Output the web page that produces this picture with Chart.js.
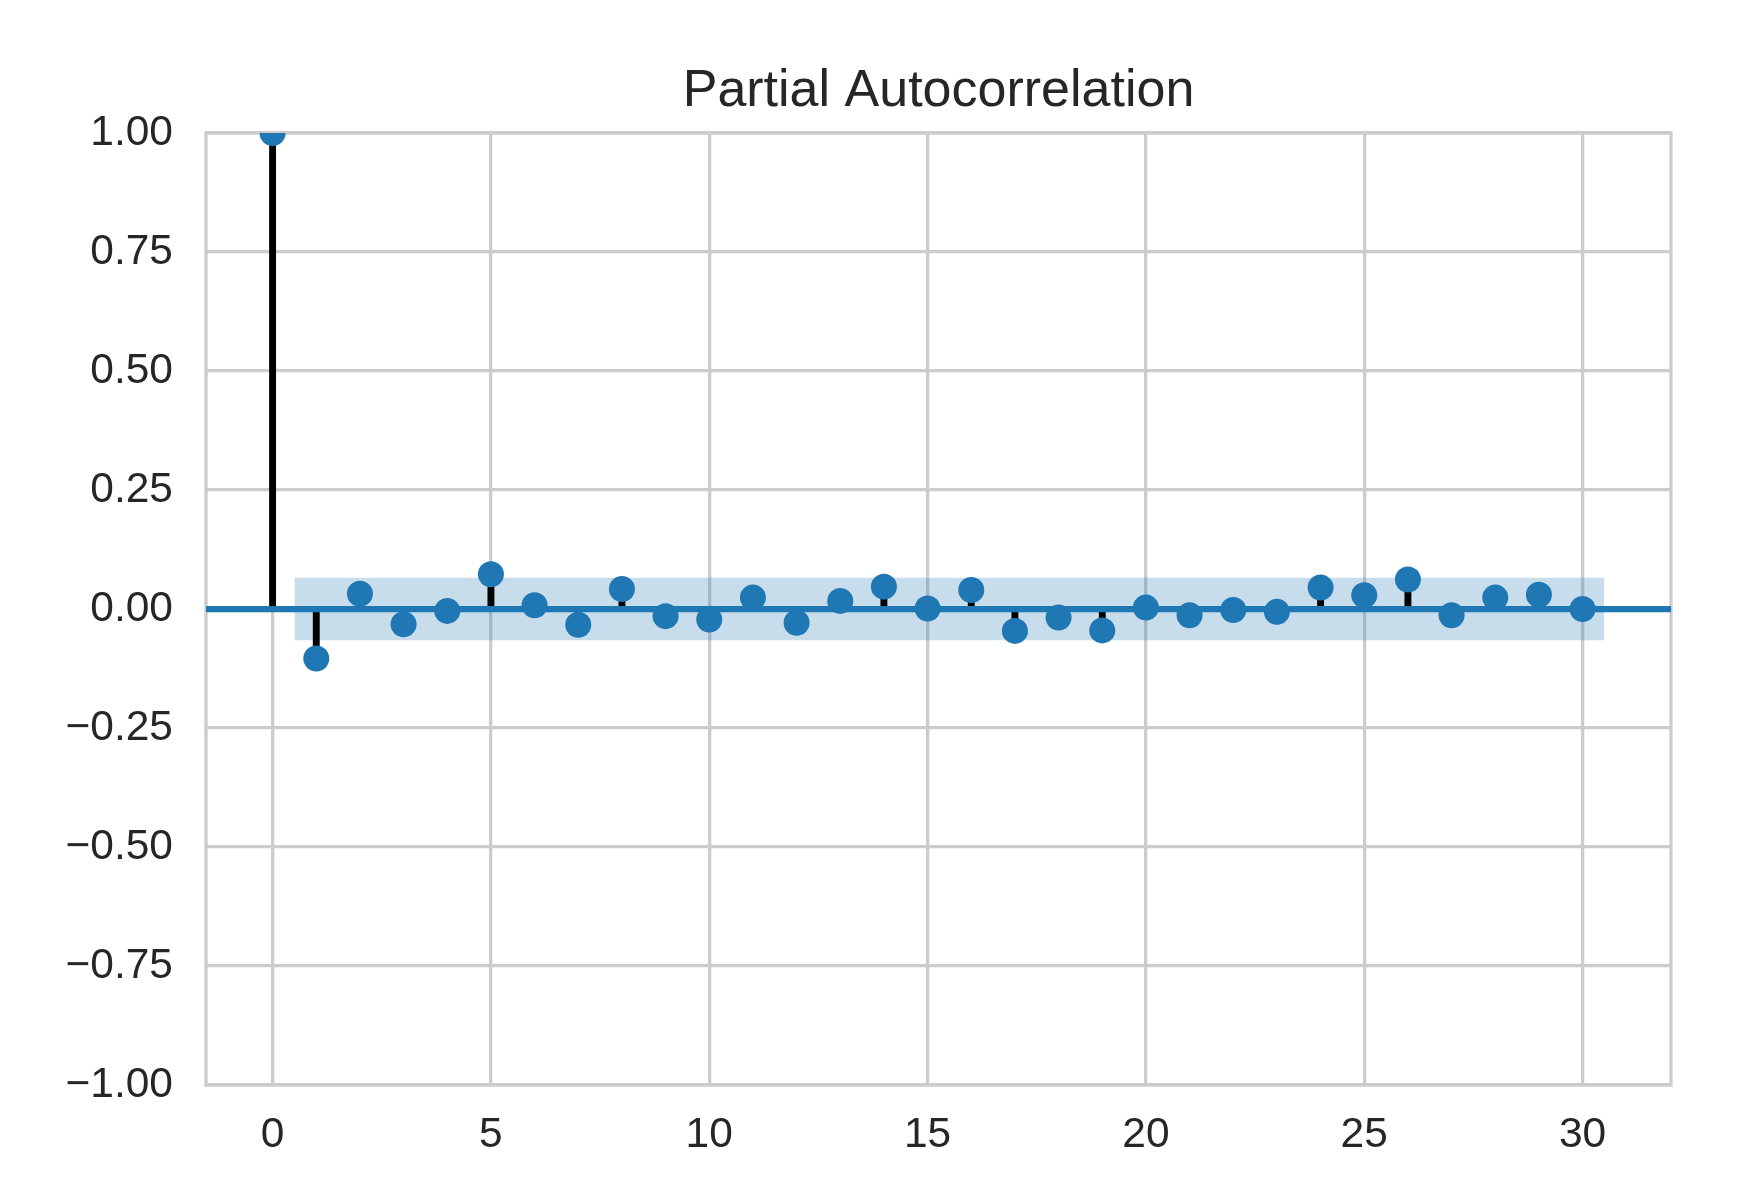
<!DOCTYPE html>
<html>
<head>
<meta charset="utf-8">
<title>Partial Autocorrelation</title>
<script src="https://cdn.jsdelivr.net/npm/chart.js@4.4.1/dist/chart.umd.min.js"></script>
<style>
	body { margin: 0; background: #ffffff; }
	canvas { display: block; }
</style>
</head>
<body>
<canvas id="pacf-chart" width="1740" height="1204"></canvas>
<script>
// --- Data ---
const lags = [0, 1, 2, 3, 4, 5, 6, 7, 8, 9, 10, 11, 12, 13, 14, 15, 16, 17, 18, 19, 20, 21, 22, 23, 24, 25, 26, 27, 28, 29, 30];
const pacfValues = [1.0, -0.104, 0.032, -0.032, -0.004, 0.073, 0.008, -0.033, 0.042, -0.015, -0.022,
	0.024, -0.029, 0.017, 0.047, 0.001, 0.040, -0.046, -0.018, -0.045, 0.003,
	-0.013, -0.002, -0.006, 0.045, 0.029, 0.062, -0.013, 0.024, 0.030, 0.000];
const confHalfWidth = 0.0655;
const bandLags = [0.5, 30.5];
const xTicks = [0, 5, 10, 15, 20, 25, 30];
const yTicks = [-1, -0.75, -0.5, -0.25, 0, 0.25, 0.5, 0.75, 1];
const xLimits = [-1.525, 32.025];
const yLimits = [-1, 1];

// --- Style ---
const blue = '#1f77b4';
const gridGray = '#cccccc';
const textColor = '#262626';
const fontFamily = '"Liberation Sans", Arial, sans-serif';

// grey frame round the plot area (all four sides)
const framePlugin = {
	id: 'frame',
	afterLayout(chart) {
		// center the title over the plot area, not the whole canvas
		if (chart.titleBlock) {
			chart.titleBlock.left = chart.chartArea.left;
			chart.titleBlock.right = chart.chartArea.right;
		}
	},
	beforeDatasetsDraw(chart) {
		const { ctx, chartArea: a } = chart;
		ctx.save();
		ctx.strokeStyle = gridGray;
		ctx.lineWidth = 3.3;
		ctx.strokeRect(a.left, a.top, a.right - a.left, a.bottom - a.top);
		ctx.restore();
	}
};

function renderPacfChart() {
	const ctx = document.getElementById('pacf-chart').getContext('2d');
	window.pacfChart = new Chart(ctx, {
		type: 'scatter',
		data: {
			datasets: [
				// confidence band
				{
					type: 'line',
					data: bandLags.map(x => ({ x: x, y: confHalfWidth })),
					borderWidth: 0,
					pointRadius: 0,
					backgroundColor: 'rgba(31,119,180,0.25)',
					fill: { value: -confHalfWidth },
					order: 4
				},
				// stems
				{
					type: 'bar',
					data: lags.map((l, i) => ({ x: l, y: pacfValues[i] })),
					backgroundColor: '#000000',
					borderWidth: 0,
					barThickness: 6.25,
					order: 3
				},
				// zero line
				{
					type: 'line',
					data: xLimits.map(x => ({ x: x, y: 0 })),
					borderColor: blue,
					borderWidth: 6.25,
					pointRadius: 0,
					fill: false,
					order: 2
				},
				// markers
				{
					type: 'scatter',
					data: lags.map((l, i) => ({ x: l, y: pacfValues[i] })),
					backgroundColor: blue,
					borderWidth: 0,
					pointRadius: 13,
					order: 1
				}
			]
		},
		options: {
			responsive: false,
			animation: false,
			devicePixelRatio: 1,
			layout: { padding: { left: 0, right: 69, top: 0, bottom: 0 } },
			plugins: {
				legend: { display: false },
				tooltip: { enabled: false },
				title: {
					display: true,
					text: 'Partial Autocorrelation',
					color: textColor,
					font: { family: fontFamily, size: 52, weight: 'normal', lineHeight: 1.2 },
					padding: { top: 60.8, bottom: 9.8 }
				}
			},
			scales: {
				x: {
					type: 'linear',
					min: xLimits[0],
					max: xLimits[1],
					offset: false,
					afterBuildTicks: scale => { scale.ticks = xTicks.map(v => ({ value: v })); },
					afterFit: scale => { scale.height = 119; },
					grid: { color: gridGray, lineWidth: 3.3, drawTicks: false, offset: false },
					border: { display: false },
					ticks: {
						color: textColor,
						font: { family: fontFamily, size: 42.5 },
						padding: 25,
						maxRotation: 0,
						callback: v => String(v)
					}
				},
				y: {
					type: 'linear',
					min: yLimits[0],
					max: yLimits[1],
					afterBuildTicks: scale => { scale.ticks = yTicks.map(v => ({ value: v })); },
					afterFit: scale => { scale.width = 206; },
					grid: { color: gridGray, lineWidth: 3.3, drawTicks: false },
					border: { display: false },
					ticks: {
						color: textColor,
						font: { family: fontFamily, size: 42.5 },
						padding: 33,
						callback: v => v.toFixed(2).replace('-', '\u2212')
					}
				}
			}
		},
		plugins: [framePlugin]
	});
}

document.addEventListener('DOMContentLoaded', function() {
	renderPacfChart();
});
</script>
</body>
</html>
